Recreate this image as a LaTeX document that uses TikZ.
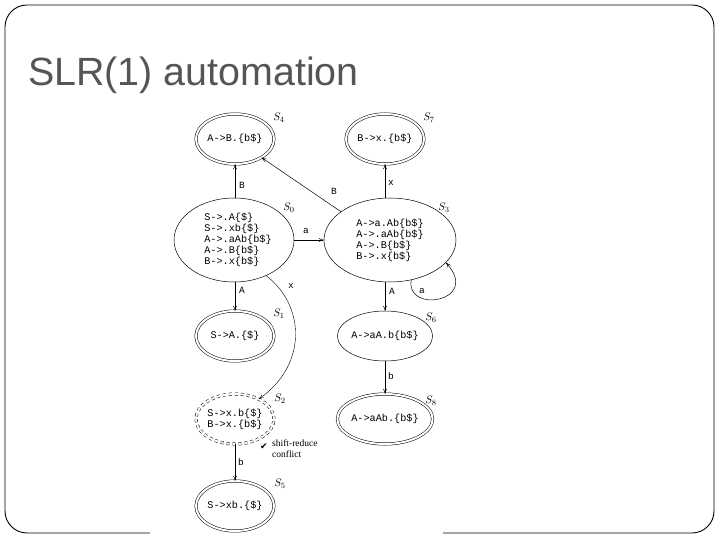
\documentclass[tikz,border=0pt]{standalone}
\usepackage{fontspec}
\setmainfont{Liberation Serif}
\newfontfamily\titlefont{Liberation Sans}
\newfontfamily\monofont{Liberation Mono}
\newfontfamily\symfont{DejaVu Sans}
\usetikzlibrary{shapes.geometric,arrows.meta}
\definecolor{titlegray}{RGB}{85,85,85}
\begin{document}
\begin{tikzpicture}[x=1pt,y=-1pt,
  state/.style={ellipse, draw, line width=0.5pt, minimum width=78pt, minimum height=50pt, inner sep=0pt,
    font=\monofont\fontsize{10.2}{11}\selectfont, align=left},
  bigstate/.style={state, minimum width=120pt, minimum height=84pt},
  acc/.style={state, double, double distance=2pt},
  slabel/.style={font=\itshape\fontsize{11}{12}\selectfont, inner sep=0pt},
  arr/.style={-{To[length=5pt,width=4pt]}, line width=0.5pt},
  elab/.style={font=\monofont\fontsize{9.5}{10}\selectfont, inner sep=1pt}]
\useasboundingbox (0,0) rectangle (720,540);
% slide frame
\draw[line width=0.9pt, rounded corners=22pt] (5,5) rectangle (714,533);
\fill[white] (150,100) rectangle (443,540);
% title
\node[anchor=base west, inner sep=0pt, text=titlegray, font=\titlefont\fontsize{39.4}{42}\selectfont] (title) at (28,86) {SLR(1) automation};
% states
\node[acc] (s4) at (235,139) {A->B.\{b\$\}};
\node[acc] (s7) at (385,139) {B->x.\{b\$\}};
\node[bigstate] (s0) at (234,240) {\hspace*{8pt}S->.A\{\$\}\\\hspace*{8pt}S->.xb\{\$\}\\\hspace*{8pt}A->.aAb\{b\$\}\\\hspace*{8pt}A->.B\{b\$\}\\\hspace*{8pt}B->.x\{b\$\}};
\node[bigstate, minimum width=132pt] (s3) at (390,240) {A->a.Ab\{b\$\}\\A->.aAb\{b\$\}\\A->.B\{b\$\}\\B->.x\{b\$\}};
\node[acc] (s1) at (235,336) {S->A.\{\$\}};
\node[acc, dashed] (s2) at (235,419) {S->x.b\{\$\}\\B->x.\{b\$\}};
\node[acc] (s5) at (235,506) {S->xb.\{\$\}};
\node[state] (s6) at (385,336) {A->aA.b\{b\$\}};
\node[acc] (s8) at (385,419) {A->aAb.\{b\$\}};
% state names
\node[slabel] (l4) at (279,118) {$S_4$};
\node[slabel] (l7) at (429,118) {$S_7$};
\node[slabel] (l0) at (289,208) {$S_0$};
\node[slabel] (l3) at (444,208) {$S_3$};
\node[slabel] (l1) at (279,314) {$S_1$};
\node[slabel] (l6) at (431,318) {$S_6$};
\node[slabel] (l2) at (280,399) {$S_2$};
\node[slabel] (l8) at (431,401) {$S_8$};
\node[slabel] (l5) at (280,484) {$S_5$};
% transitions
\draw[arr] (s0.north -| s4) -- (s4.south);
\node[elab] (eB1) at (242,185) {B};
\draw[arr] (s3.150) -- (s4.-35);
\node[elab] (eB2) at (334,191) {B};
\draw[arr] (s3.north -| s7) -- (s7.south);
\node[elab] (ex1) at (391,183) {x};
\draw[arr] (s0.east) -- (s3.west);
\node[elab] (ea1) at (306,231) {a};
\draw[arr] (s0.south -| s1) -- (s1.north);
\node[elab] (eA1) at (242,290) {A};
\draw[arr, line width=0.4pt] (s0.-48) .. controls (305,305) and (308,365) .. (s2.40);
\node[elab] (ex2) at (291,286) {x};
\draw[arr] (s3.south -| s6) -- (s6.north);
\node[elab] (eA2) at (392,291) {A};
\draw[arr] (s3.-62) .. controls (405,314) and (482,302) .. (s3.-22);
\node[elab] (ea2) at (422,291) {a};
\draw[arr] (s2.south) -- (s5.north);
\node[elab] (eb1) at (241,462) {b};
\draw[arr] (s6.south) -- (s8.north);
\node[elab] (eb2) at (391,376) {b};
% conflict note
\node[inner sep=0pt, font=\symfont\fontsize{9}{10}\selectfont] (chk) at (264,447) {✔};
\node[anchor=north west, inner sep=0pt, align=left, font=\fontsize{9.5}{11}\selectfont] (note) at (272,440) {shift-reduce\\conflict};
\end{tikzpicture}
\end{document}
